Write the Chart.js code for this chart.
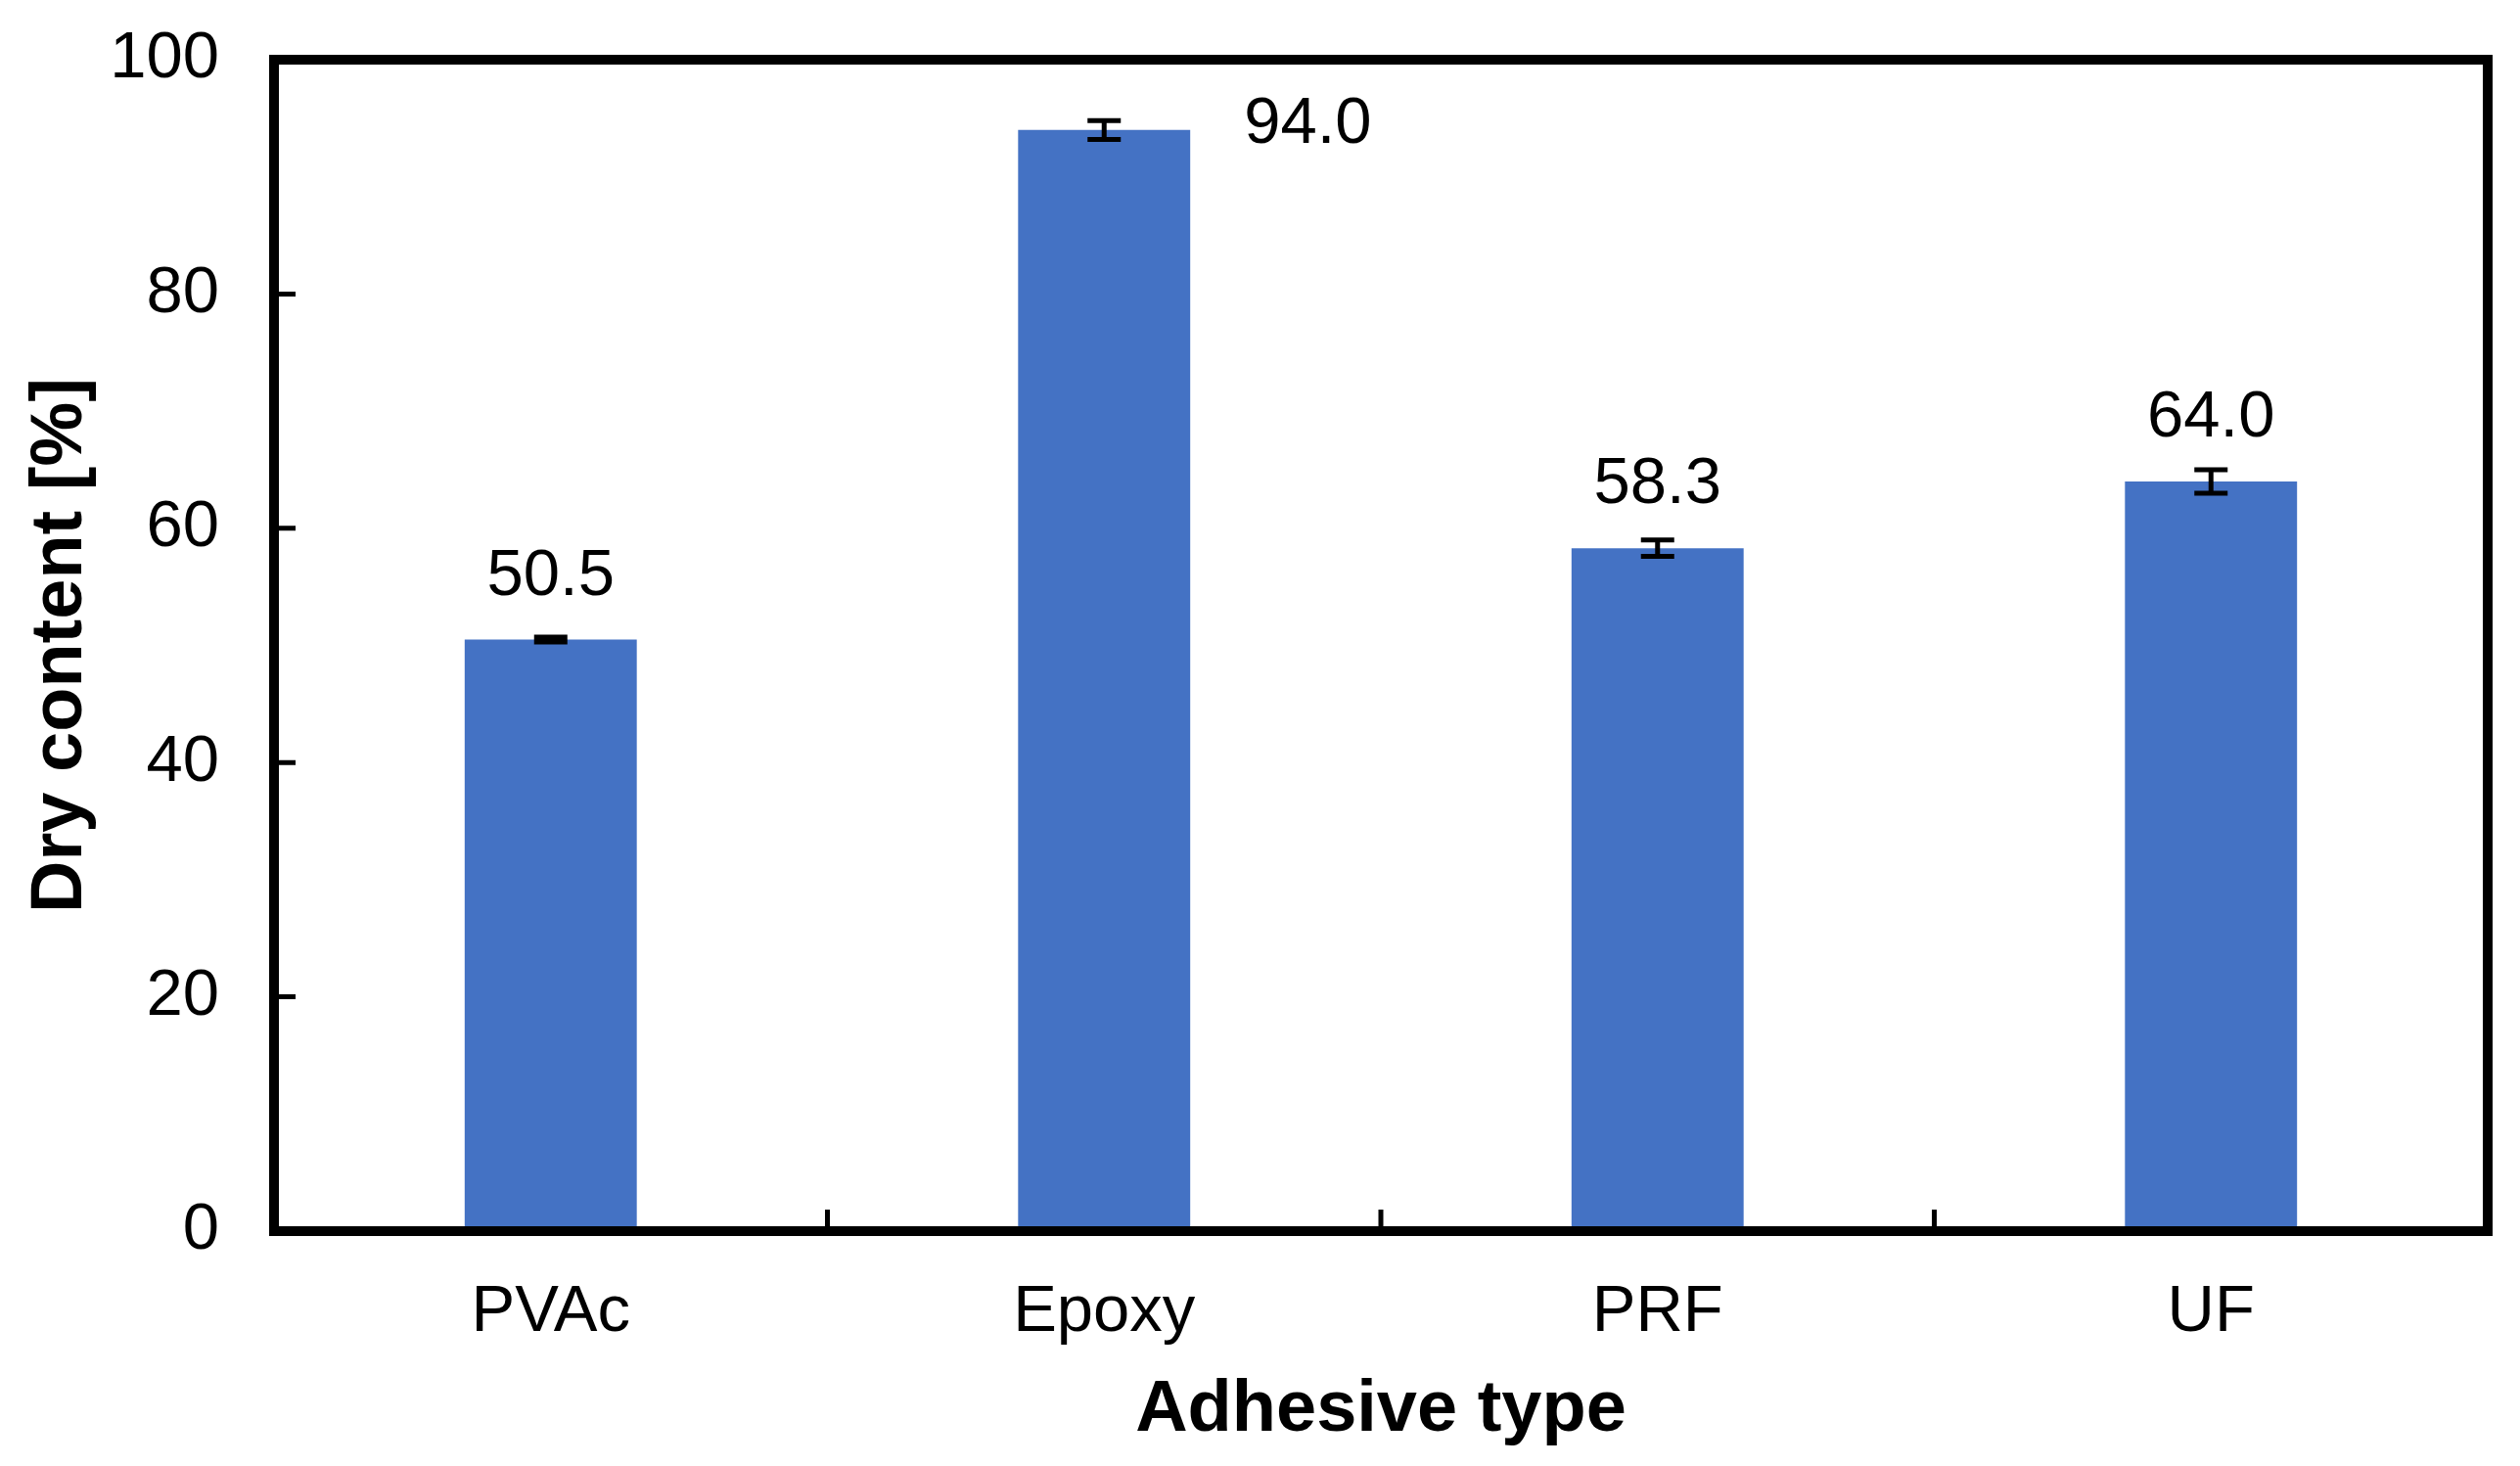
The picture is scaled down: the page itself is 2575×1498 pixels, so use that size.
<!DOCTYPE html>
<html>
<head>
<meta charset="utf-8">
<script src="https://cdn.jsdelivr.net/npm/chart.js@4"></script>
<style>
  html, body { margin: 0; padding: 0; background: #fff; }
  #wrap { width: 2575px; height: 1498px; position: relative; }
</style>
</head>
<body>
<div id="wrap"><canvas id="c" width="2575" height="1498"></canvas></div>
<script>
const categories = ["PVAc", "Epoxy", "PRF", "UF"];
const dryContent = [50.5, 94.0, 58.3, 64.0];
const errors = [0.2, 0.8, 0.7, 1.0];
const valueLabels = ["50.5", "94.0", "58.3", "64.0"];
const labelPlacement = ["above", "right", "above", "above"];
const yTicks = [0, 20, 40, 60, 80, 100];

const FONT = "'Liberation Sans', Arial, sans-serif";
const BAR_COLOR = "#4472C4";

const framePlugin = {
  id: "frame",
  afterDatasetsDraw(chart) {
    const { ctx, chartArea: a, scales } = chart;
    ctx.save();
    ctx.strokeStyle = "#000";
    ctx.lineWidth = 10;
    ctx.lineJoin = "miter";
    ctx.strokeRect(a.left, a.top, a.right - a.left, a.bottom - a.top);
    ctx.lineWidth = 5;
    ctx.beginPath();
    yTicks.forEach(v => {
      const y = scales.y.getPixelForValue(v);
      ctx.moveTo(a.left, y);
      ctx.lineTo(a.left + 22, y);
    });
    const n = categories.length;
    for (let i = 1; i < n; i++) {
      const x = (scales.x.getPixelForValue(i - 1) + scales.x.getPixelForValue(i)) / 2;
      ctx.moveTo(x, a.bottom);
      ctx.lineTo(x, a.bottom - 22);
    }
    ctx.stroke();
    ctx.restore();
  }
};

const errorBarPlugin = {
  id: "errorBars",
  afterDatasetsDraw(chart) {
    const { ctx, scales } = chart;
    const meta = chart.getDatasetMeta(0);
    ctx.save();
    ctx.strokeStyle = "#000";
    ctx.lineWidth = 5;
    meta.data.forEach((bar, i) => {
      const v = dryContent[i], e = errors[i];
      const yHi = scales.y.getPixelForValue(v + e);
      const yLo = scales.y.getPixelForValue(v - e);
      const x = bar.x;
      const cap = 17;
      ctx.beginPath();
      ctx.moveTo(x, yHi); ctx.lineTo(x, yLo);
      ctx.moveTo(x - cap, yHi); ctx.lineTo(x + cap, yHi);
      ctx.moveTo(x - cap, yLo); ctx.lineTo(x + cap, yLo);
      ctx.stroke();
    });
    ctx.restore();
  }
};

const valueLabelPlugin = {
  id: "valueLabels",
  afterDatasetsDraw(chart) {
    const { ctx, scales } = chart;
    const meta = chart.getDatasetMeta(0);
    ctx.save();
    ctx.fillStyle = "#000";
    ctx.font = "67px " + FONT;
    meta.data.forEach((bar, i) => {
      const yv = scales.y.getPixelForValue(dryContent[i]);
      if (labelPlacement[i] === "right") {
        ctx.textAlign = "left";
        ctx.textBaseline = "middle";
        ctx.fillText(valueLabels[i], bar.x + bar.width / 2 + 55, yv - 5);
      } else {
        ctx.textAlign = "center";
        ctx.textBaseline = "alphabetic";
        ctx.fillText(valueLabels[i], bar.x, yv - 46);
      }
    });
    ctx.restore();
  }
};

new Chart(document.getElementById("c"), {
  type: "bar",
  data: {
    labels: categories,
    datasets: [{
      data: dryContent,
      backgroundColor: BAR_COLOR,
      borderWidth: 0,
      categoryPercentage: 1.0,
      barPercentage: 0.311
    }]
  },
  options: {
    responsive: false,
    animation: false,
    devicePixelRatio: 1,
    layout: { padding: { top: 61, right: 33, bottom: 0, left: 0 } },
    plugins: { legend: { display: false }, tooltip: { enabled: false } },
    scales: {
      x: {
        grid: { display: false, drawTicks: false },
        border: { display: false },
        ticks: { color: "#000", font: { family: FONT, size: 67 }, padding: 43 },
        title: {
          display: true, text: "Adhesive type", color: "#000",
          font: { family: FONT, size: 74, weight: "bold" },
          padding: { top: 0, bottom: 12 }
        },
        afterFit(scale) { scale.height = 240; }
      },
      y: {
        min: 0, max: 100,
        afterBuildTicks(scale) { scale.ticks = yTicks.map(v => ({ value: v })); },
        grid: { display: false, drawTicks: false },
        border: { display: false },
        ticks: { color: "#000", font: { family: FONT, size: 67, lineHeight: "8px" }, padding: 56 },
        title: {
          display: true, text: "Dry content [%]", color: "#000",
          font: { family: FONT, size: 74, weight: "bold" },
          padding: { top: 18, bottom: 0 }
        },
        afterFit(scale) { scale.width = 280; }
      }
    }
  },
  plugins: [framePlugin, errorBarPlugin, valueLabelPlugin]
});
</script>
</body>
</html>
